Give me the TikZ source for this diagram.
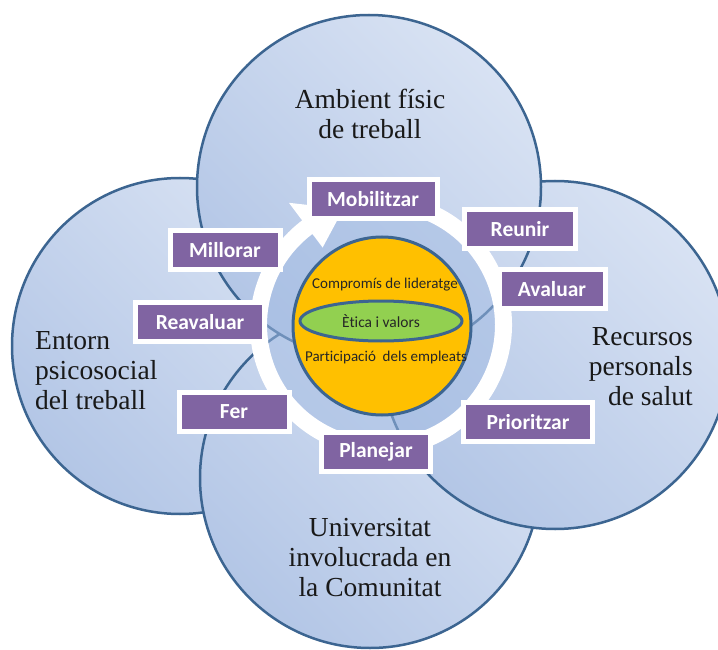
\documentclass[tikz,border=0pt]{standalone}
\usepackage{fontspec}
\setmainfont{Liberation Serif}
\newfontfamily\calibri[Ligatures=NoCommon]{Carlito}
\usepackage{tikz}
\usetikzlibrary{calc,shapes,arrows,positioning,shadows}
\definecolor{rimblue}{HTML}{3C6591}
\definecolor{paleblue}{HTML}{D8E2F3}
\definecolor{softblue}{HTML}{B3C6E6}
\definecolor{discblue}{HTML}{A3BCE3}
\definecolor{stepviolet}{HTML}{8064A2}
\definecolor{coreorange}{HTML}{FFC000}
\definecolor{leafgreen}{HTML}{92D050}
\tikzstyle{area} = [circle, draw=rimblue, line width=2.5pt, top color=paleblue, bottom color=softblue, shading angle=-45, inner sep=0pt]
\tikzstyle{areatext} = [font=\fontsize{27.5}{30}\selectfont, text=black!90, inner sep=0pt]
\tikzstyle{task} = [rectangle, fill=stepviolet, draw=white, line width=5pt, minimum height=39pt, minimum width=110pt, text=white, font=\calibri\bfseries\fontsize{21.5}{24}\selectfont, drop shadow={shadow xshift=2.5pt, shadow yshift=-2.5pt, opacity=0.25}]
\tikzstyle{coretext} = [font=\calibri\fontsize{15}{17}\selectfont, text=black!85, inner sep=0pt]

\begin{document}
\begin{tikzpicture}[x=1pt,y=-1pt]
\path[use as bounding box, fill=white] (0,0) rectangle (718,650);
\node[area, minimum size=336pt] (ent) at (180,346) {};
\node[area, minimum size=340pt] (uni) at (370,478) {};
\node[area, minimum size=348pt] (rec) at (555,355) {};
\node[area, minimum size=344pt] (amb) at (369,187) {};
\node[areatext, align=center] (ambt) at (370,114) {Ambient físic\\de treball};
\node[areatext, align=left, anchor=west] (entt) at (35,371) {Entorn\\psicosocial\\del treball};
\node[areatext, align=right, anchor=east] (rect) at (693,367) {Recursos\\personals\\de salut};
\node[areatext, align=center] (unit) at (370,558) {Universitat\\involucrada en\\la Comunitat};
\coordinate (c) at (381,325);
\fill[discblue, fill opacity=0.5] (c) circle[radius=114];
\fill[white] ($(c)+(-80:131)$) arc[start angle=-80, end angle=233, radius=131] -- ($(c)+(233:153)$) -- ($(c)+(252:122)$) -- ($(c)+(233:97)$) -- ($(c)+(233:114)$) arc[start angle=233, end angle=-80, radius=114] -- cycle;
\node[circle, fill=coreorange, draw=rimblue, line width=3pt, minimum size=178pt] (core) at (382,326) {};
\node[ellipse, fill=leafgreen, draw=rimblue, line width=3pt, minimum width=162pt, minimum height=40pt, inner sep=0pt, text=black!85] (etic) at (381,321) {\calibri\fontsize{15.5}{17}\selectfont Ètica i valors};
\node[coretext] (lid) at (385,285) {Compromís de lideratge};
\node[coretext] (part) at (386,357) {Participació\ \ dels empleats};
\node[task, minimum width=128pt] (mob) at (373,199) {Mobilitzar};
\node[task, minimum width=111pt] (reu) at (520,229) {Reunir};
\node[task, minimum width=106pt] (ava) at (552,289) {Avaluar};
\node[task, minimum width=129pt] (pri) at (528,422) {Prioritzar};
\node[task, minimum width=109pt] (pla) at (376,452) {Planejar};
\node[task] (fer) at (234,412) {Fer};
\node[task, minimum width=129pt] (rea) at (200,322) {Reavaluar};
\node[task] (mil) at (225,250) {Millorar};
\end{tikzpicture}
\end{document}
